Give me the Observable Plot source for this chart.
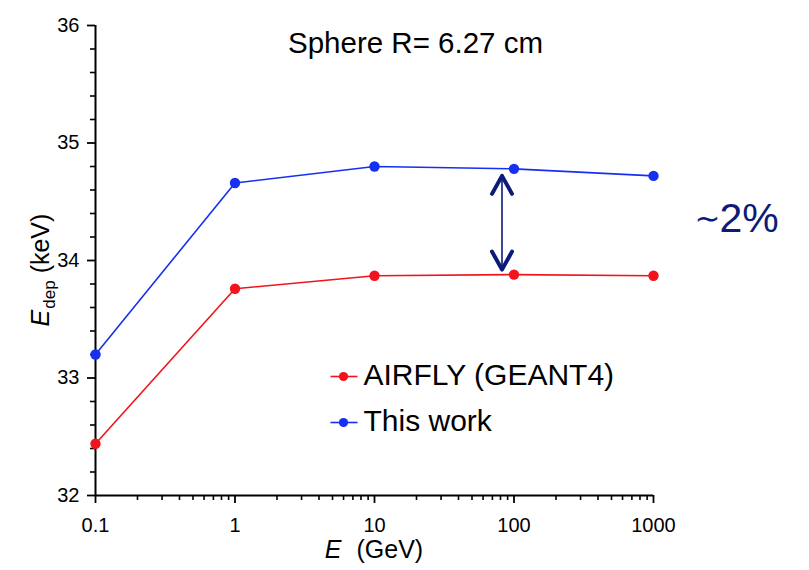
<!DOCTYPE html>
<html><head><meta charset="utf-8">
<script src="https://cdn.jsdelivr.net/npm/d3@7"></script>
<script src="https://cdn.jsdelivr.net/npm/@observablehq/plot@0.6"></script>
<style>
body{margin:0;background:#fff;}
svg{font-family:"Liberation Sans",Arial,Helvetica,sans-serif;}
g[aria-label$="tick label"]{font-size:20px;}
</style>
</head><body><div id="chart"></div>
<script>
// ---- data ----
const energies = [0.1, 1, 10, 100, 1000];            // GeV
const airfly   = [32.44, 33.76, 33.87, 33.88, 33.87]; // keV
const thisWork = [33.20, 34.66, 34.80, 34.78, 34.72]; // keV
const seriesNames  = ["AIRFLY (GEANT4)", "This work"];
const seriesColors = ["#f2131c", "#1630f0"];
const xTickValues = [0.1, 1, 10, 100, 1000];
const xTickLabels = ["0.1", "1", "10", "100", "1000"];
const yTickValues = [32, 33, 34, 35, 36];
const yTickLabels = ["32", "33", "34", "35", "36"];
const titleText = "Sphere R= 6.27 cm";
const annotTilde = "\u223C";
const annotText = "2%";
const annotIndex = 3; // the double arrow sits at the 100 GeV points

// ---- layout ----
const W = 809, H = 570;
const mL = 95, mR = 156, mT = 25, mB = 75;
const navy = "#0c1a78";

const rows = energies.flatMap((e, i) => [
  {E: e, v: airfly[i], s: seriesNames[0]},
  {E: e, v: thisWork[i], s: seriesNames[1]}
]);

// minor ticks derived from the scale's structure
const xMinor = [];
for (let k = 0; k < xTickValues.length - 1; k++)
  for (let m = 2; m <= 9; m++) xMinor.push(xTickValues[k] * m);
const yMinor = d3.range(yTickValues[0], yTickValues[yTickValues.length - 1] + 1e-9, 0.2)
  .filter(v => Math.abs(v - Math.round(v)) > 1e-6);

const chevUp = {draw(c) { c.moveTo(-10, 18); c.lineTo(0, 0); c.lineTo(10, 18); }};
const chevDown = {draw(c) { c.moveTo(-10, -18); c.lineTo(0, 0); c.lineTo(10, -18); }};
const hseg = {draw(c) { c.moveTo(-13, 0); c.lineTo(14, 0); }};

const arrowRow = [{E: energies[annotIndex], top: thisWork[annotIndex], bot: airfly[annotIndex]}];

const legendMarks = seriesNames.flatMap((name, i) => [
  Plot.dot([name], {frameAnchor: "top-left", dx: 248, dy: 351 + i * 46, symbol: hseg, stroke: seriesColors[i], strokeWidth: 1.6, fill: "none"}),
  Plot.dot([name], {frameAnchor: "top-left", dx: 248, dy: 351 + i * 46, r: 4.6, fill: seriesColors[i], stroke: "none"}),
  Plot.text([name], {frameAnchor: "top-left", dx: 268, dy: 350 + i * 46, text: d => d, textAnchor: "start", lineAnchor: "middle", fontSize: 30, fill: "black"})
]);

const chart = Plot.plot({
  width: W, height: H,
  marginLeft: mL, marginRight: mR, marginTop: mT, marginBottom: mB,
  style: "font-family: 'Liberation Sans', Arial, sans-serif; color: black; background: white; overflow: visible;",
  x: {type: "log", domain: [xTickValues[0], xTickValues[xTickValues.length - 1]]},
  y: {domain: [yTickValues[0], yTickValues[yTickValues.length - 1]]},
  color: {domain: seriesNames, range: seriesColors},
  marks: [
    Plot.axisY(yMinor, {tickSize: 5, tickFormat: () => "", strokeWidth: 1.6, label: null}),
    Plot.axisY(yTickValues, {tickSize: 8, tickPadding: 8, strokeWidth: 1.8, fontSize: 20,
      tickFormat: d => yTickLabels[yTickValues.indexOf(d)], label: null}),
    Plot.axisX(xMinor, {tickSize: 5, tickFormat: () => "", strokeWidth: 1.6, label: null}),
    Plot.axisX(xTickValues, {tickSize: 8, tickPadding: 14, strokeWidth: 1.8, fontSize: 20,
      tickFormat: d => xTickLabels[xTickValues.indexOf(d)], label: null}),
    Plot.ruleX([xTickValues[0]], {strokeWidth: 2}),
    Plot.ruleY([yTickValues[0]], {strokeWidth: 2}),
    Plot.line(rows, {x: "E", y: "v", z: "s", stroke: "s", strokeWidth: 1.6}),
    Plot.dot(rows, {x: "E", y: "v", fill: "s", r: 5.2, stroke: "none"}),
    // double arrow annotation
    Plot.ruleX(arrowRow, {x: "E", y1: "top", y2: "bot", dx: -12, insetTop: 8, insetBottom: 8, stroke: navy, strokeWidth: 1.6}),
    Plot.dot(arrowRow, {x: "E", y: "top", dx: -12, dy: 7, symbol: chevUp, stroke: navy, strokeWidth: 4, fill: "none", strokeLinejoin: "round", strokeLinecap: "round"}),
    Plot.dot(arrowRow, {x: "E", y: "bot", dx: -12, dy: -5, symbol: chevDown, stroke: navy, strokeWidth: 4, fill: "none", strokeLinejoin: "round", strokeLinecap: "round"}),
    Plot.text([annotText], {frameAnchor: "top-right", dx: 66, dy: 193, text: d => d, textAnchor: "start", lineAnchor: "middle", fontSize: 41, fill: navy}),
    Plot.text([annotTilde], {frameAnchor: "top-right", dx: 67, dy: 194, text: d => d, textAnchor: "end", lineAnchor: "middle", fontSize: 31, fill: navy, fontFamily: "DejaVu Sans"}),
    // title
    Plot.text([titleText], {frameAnchor: "top", dx: 41, dy: 18, text: d => d, lineAnchor: "middle", fontSize: 29.5, fill: "black"}),
    ...legendMarks
  ]
});

document.getElementById("chart").appendChild(chart);
d3.select(chart).selectAll('g[aria-label$="tick label"]').attr("font-size", 20).style("font-size", "20px");

// axis titles with italic symbol and subscript
const svg = d3.select(chart);
const xc = (mL + W - mR) / 2;
const xl = svg.append("text").attr("x", xc).attr("y", H - 12)
  .attr("text-anchor", "middle").attr("font-size", 25).attr("fill", "black");
xl.append("tspan").attr("font-style", "italic").text("E");
xl.append("tspan").attr("dx", 8).text(" (GeV)");

const yc = (mT + H - mB) / 2 + 10;
const yl = svg.append("text").attr("transform", `translate(49,${yc}) rotate(-90)`)
  .attr("text-anchor", "middle").attr("font-size", 25).attr("fill", "black");
yl.append("tspan").attr("font-style", "italic").text("E");
yl.append("tspan").attr("font-size", 17).attr("dy", 6).attr("dx", 1).text("dep");
yl.append("tspan").attr("dy", -6).text(" (keV)");
</script>
</body></html>
